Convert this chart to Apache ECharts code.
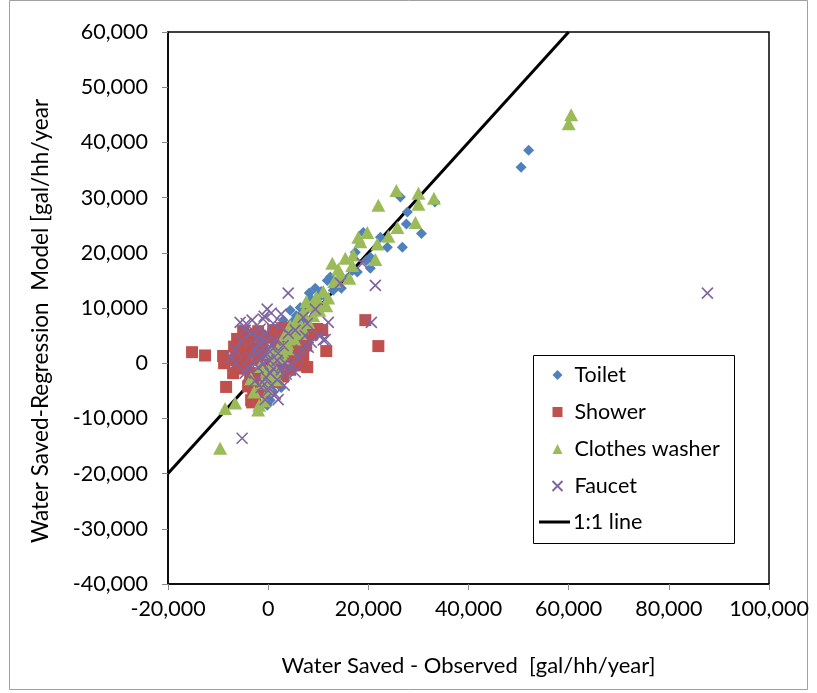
<!DOCTYPE html>
<html><head><meta charset="utf-8">
<script src="https://cdn.jsdelivr.net/npm/echarts@6/dist/echarts.min.js"></script>
<style>html,body{margin:0;padding:0;background:#fff}#c{width:817px;height:693px}</style>
</head><body><div id="c"></div>
<script>
const seriesNames = ['Toilet', 'Shower', 'Clothes washer', 'Faucet', '1:1 line'];
const toilet = [[50500,35500],[52000,38600],[26400,30100],[33300,29200],[27800,27400],[27600,25200],[30600,23500],[26800,21000],[23800,21000],[22400,22800],[19000,23700],[17400,20100],[20400,19200],[20400,17200],[17800,16500],[11800,15000],[12400,15600],[8200,12700],[4400,9600],[6400,10100],[15800,15400],[16800,16800],[13800,14200],[10000,11800],[9000,10800],[7400,9400],[5600,8600],[3000,7800],[10600,13000],[14600,13600],[6000,7000],[3600,5800],[2200,4400],[1200,3000],[9400,13600],[-200,-7600],[400,-6700],[1000,-5200],[-1000,-4000],[-2400,-2600],[0,-2000],[1800,-1000],[-3000,-1400],[400,-3000],[2400,400],[1400,1800],[-600,1000],[3400,2800],[4800,5000],[-1600,-5400],[-4000,-3100],[2600,-4400],[7200,8000],[11000,12400],[13000,13200],[19600,18600],[5000,7600],[8600,11600],[2000,6000],[-400,-6200]];
const shower = [[-15200,2000],[-12600,1400],[-9000,1300],[-8800,0],[-8400,-4300],[-3200,-7100],[-3400,-6700],[-3000,-5600],[19400,7800],[22000,3100],[11600,2200],[10800,6000],[7800,-700],[5800,500],[8800,5200],[9800,6200],[-4000,5200],[-2000,5800],[-5000,3000],[-6400,1600],[-7400,500],[-5600,-200],[-4600,1000],[-3000,2600],[-1400,3800],[0,4600],[1600,5400],[-2200,600],[-800,-1200],[-3600,-1800],[-2400,-3600],[-1000,-5000],[400,-2400],[1800,-3400],[2600,200],[3600,1800],[4400,-1200],[5600,2800],[6600,4600],[7000,1200],[-4000,-4200],[-5000,5800],[3000,6400],[1000,800],[2000,-800],[-1800,1600],[4200,4000],[-6200,4400],[-7000,-1800],[1000,6000],[3000,-2400],[6000,-400],[-2600,-6000],[-5600,2000],[-3800,3600],[-1200,2200],[-6000,-1000],[-4400,-600],[-2000,-2000],[4800,1000],[5200,3600],[-1600,5000],[2200,3400],[7600,3200],[-3000,-4000],[-6800,3000]];
const washer = [[60500,45000],[60000,43400],[-9600,-15400],[-8600,-8200],[-6600,-7200],[-2000,-8500],[25600,31300],[30000,30800],[33100,29900],[30000,28800],[22000,28600],[29400,25500],[25800,24600],[24000,23000],[19800,23700],[18000,22800],[21800,21600],[21400,18800],[12800,18100],[15400,19000],[16800,17700],[14400,16000],[13200,14800],[16200,15400],[11000,13000],[9600,12000],[12000,11800],[8600,10400],[7000,9200],[10200,9600],[5800,8000],[6800,6400],[4400,6800],[3400,5200],[5200,4400],[2400,3400],[1800,1400],[800,-200],[3000,1000],[1200,-2400],[-400,-1400],[-1200,-3600],[200,-4800],[-2800,-5200],[2000,-3000],[4000,2600],[-1600,-600],[600,2000],[-3400,-2800],[-800,-6800],[9000,8600],[14000,17000],[17000,19600],[18400,22000],[7600,11200],[-1800,-7600],[11600,10400],[8000,7400],[6400,5400],[4600,4800],[3800,3600],[2800,2200],[1400,-1000],[-200,-3000],[9800,11000],[5400,6400]];
const faucet = [[87700,12700],[-5200,-13600],[4000,12700],[21400,14100],[20600,7400],[12000,7400],[11000,4200],[8000,2900],[18800,18100],[14400,14500],[-200,9800],[600,9100],[-800,8500],[-4400,7200],[2600,8900],[7000,8300],[7800,7200],[11400,4300],[5400,6000],[4000,5400],[-1600,6200],[-3400,5400],[-4600,6000],[-6600,2400],[-7400,1000],[-6400,0],[-1400,1100],[0,2400],[1400,4200],[2000,1800],[3400,0],[-2000,-800],[-4000,-800],[-400,-2600],[-2600,-3200],[-1400,-4400],[0,-5000],[1400,-5600],[2600,-1200],[-4600,-1800],[6600,2400],[8600,3800],[6000,1000],[7400,5000],[1000,-1000],[-800,4000],[-2600,2800],[3000,3200],[4800,-400],[-5400,4000],[-3200,7800],[-1000,8000],[1800,-3000],[200,600],[-2000,4600],[3600,-2000],[2400,6600],[1000,7200],[-600,-6600],[5400,-1600],[9400,9800],[10400,5000],[2000,-6600],[3200,-4000],[-5600,7400],[-200,1600],[800,3400],[-1000,-200],[400,-1800],[-2200,1800],[1800,500],[-600,5400],[2800,-400],[-3600,1200],[-1200,-3400],[600,-4000],[-1800,3400]];
const oneToOne = [[-20000,-20000],[60000,60000]];
const xRange = [-20000, 100000, 20000];
const yRange = [-40000, 60000, 10000];
const xTitle = 'Water Saved - Observed  [gal/hh/year]';
const yTitle = 'Water Saved-Regression  Model [gal/hh/year';

const FONT = 'Lato';
const fmt = v => v.toLocaleString('en-US');
const chart = echarts.init(document.getElementById('c'));
const crossPath = 'path://M0,0L10,10M10,0L0,10';
chart.setOption({
  animation: false,
  backgroundColor: '#fff',
  textStyle: {fontFamily: FONT},
  grid: {left: 168, right: 48, top: 32, bottom: 109, show: true, borderColor: '#000', borderWidth: 1.5, backgroundColor: 'transparent'},
  xAxis: {
    type: 'value', min: xRange[0], max: xRange[1], interval: xRange[2],
    name: xTitle, nameLocation: 'middle', nameGap: 71,
    nameTextStyle: {fontFamily: FONT, fontSize: 22, color: '#000'},
    axisLine: {show: true, onZero: false, lineStyle: {color: '#000', width: 1.5}},
    axisTick: {show: true, length: 6, lineStyle: {color: '#888'}},
    axisLabel: {margin: 14, fontFamily: FONT, fontSize: 21.5, color: '#000', formatter: fmt},
    splitLine: {show: false}
  },
  yAxis: {
    type: 'value', min: yRange[0], max: yRange[1], interval: yRange[2],
    axisLine: {show: true, onZero: false, lineStyle: {color: '#000', width: 1.5}},
    axisTick: {show: true, length: 6, lineStyle: {color: '#888'}},
    axisLabel: {margin: 20, fontFamily: FONT, fontSize: 21.5, color: '#000', formatter: fmt},
    splitLine: {show: false}
  },
  legend: [
    {data: seriesNames.slice(0, 4), orient: 'vertical', left: 550, top: 364, padding: 0, z: 6,
     itemWidth: 10, itemHeight: 10, itemGap: 15,
     textStyle: {fontFamily: FONT, fontSize: 21.5, color: '#000', padding: [0, 0, 0, 7]}},
    {data: [{name: seriesNames[4], icon: 'rect'}], orient: 'vertical', left: 539, top: 511, padding: 0, z: 6,
     itemWidth: 31, itemHeight: 3, itemStyle: {color: '#000'},
     textStyle: {fontFamily: FONT, fontSize: 21.5, color: '#000', padding: [0, 0, 0, -2]}}
  ],
  graphic: [
    {type: 'rect', shape: {x: 9.5, y: 0.5, width: 798, height: 689}, style: {fill: 'none', stroke: '#a0a0a0', lineWidth: 1}, silent: true, z: -10},
    {type: 'rect', shape: {x: 533.5, y: 355.5, width: 201, height: 188}, style: {fill: '#fff', stroke: '#000', lineWidth: 1}, silent: true, z: 3},
    {type: 'text', x: 41, y: 321, rotation: Math.PI / 2, style: {text: yTitle, fontFamily: FONT, fontSize: 22.5, fill: '#000', align: 'center', verticalAlign: 'middle'}, silent: true}
  ],
  series: [
    {name: seriesNames[0], type: 'scatter', data: toilet, symbol: 'diamond', symbolSize: 11, itemStyle: {color: '#4F81BD', opacity: 1}, z: 2},
    {name: seriesNames[1], type: 'scatter', data: shower, symbol: 'rect', symbolSize: 12, itemStyle: {color: '#C0504D', opacity: 1}, z: 2},
    {name: seriesNames[2], type: 'scatter', data: washer, symbol: 'triangle', symbolSize: [14, 13], itemStyle: {color: '#9BBB59', opacity: 1}, z: 2},
    {name: seriesNames[3], type: 'scatter', data: faucet, symbol: crossPath, symbolSize: 11, itemStyle: {color: 'none', borderColor: '#8064A2', borderWidth: 1.6, opacity: 1}, z: 2},
    {name: seriesNames[4], type: 'line', data: oneToOne, symbol: 'none', itemStyle: {color: '#000'}, lineStyle: {color: '#000', width: 3}, z: 1}
  ]
});
</script></body></html>
